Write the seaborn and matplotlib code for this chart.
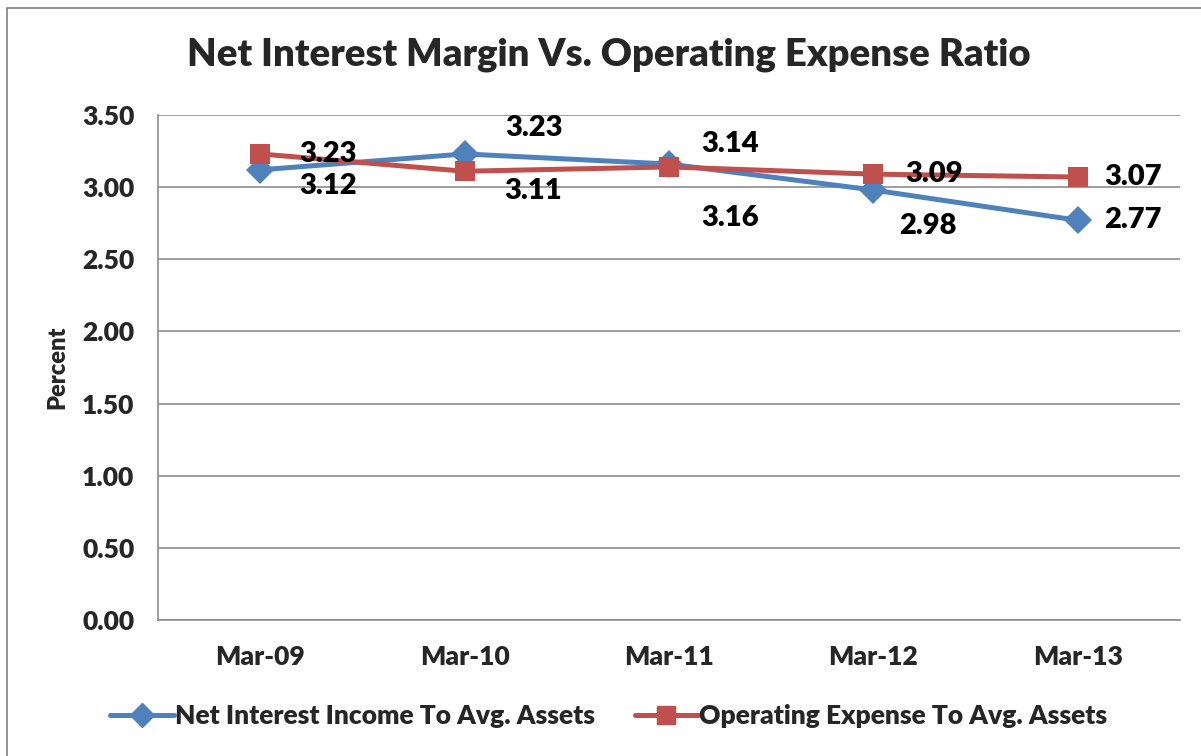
import numpy as np
import pandas as pd
import matplotlib.pyplot as plt
import seaborn as sns
from matplotlib.patches import Rectangle

sns.set_theme(style="white")
plt.rcParams['font.family'] = ['Lato', 'DejaVu Sans']
W = "heavy"

# data
periods = ["Mar-09", "Mar-10", "Mar-11", "Mar-12", "Mar-13"]
net_interest = [3.12, 3.23, 3.16, 2.98, 2.77]
operating_expense = [3.23, 3.11, 3.14, 3.09, 3.07]
ytick_vals = [0.0, 0.5, 1.0, 1.5, 2.0, 2.5, 3.0, 3.5]

# label offsets in pixels (dx, dy), copied from where the labels sit
ni_offsets = [(68, -16), (69, 26), (61, -54), (54, -36), (55, 0)]
oe_offsets = [(68, 0), (69, -20), (61, 23), (61, 0), (55, 0)]

df = pd.DataFrame({
    "period": periods * 2,
    "value": net_interest + operating_expense,
    "series": ["Net Interest Income To Avg. Assets"] * 5 + ["Operating Expense To Avg. Assets"] * 5,
})

blue = "#4F81BD"
red = "#C0504D"
grid_col = "#8C8C8C"

fig = plt.figure(figsize=(12.01, 7.56), dpi=100)
ax = fig.add_axes([0.1316, 0.1799, 0.8509, 0.668])

sns.lineplot(data=df, x="period", y="value", hue="series", style="series",
             markers={"Net Interest Income To Avg. Assets": "D",
                      "Operating Expense To Avg. Assets": "s"},
             dashes=False, palette=[blue, red], linewidth=3.6,
             markersize=14, markeredgewidth=0, ax=ax, legend=False)

ax.set_xlim(-0.5, 4.5)
ax.set_ylim(0, 3.5)
ax.set_yticks(ytick_vals)
ax.set_yticklabels([f"{v:.2f}" for v in ytick_vals], fontsize=19, fontweight=W)
ax.set_xticks(range(len(periods)))
ax.set_xticklabels(periods, fontsize=19, fontweight=W)
ax.set_xticks(np.arange(-0.5, 5, 1), minor=True)
ax.tick_params(axis="x", which="major", length=0, pad=18)
ax.tick_params(axis="x", which="minor", length=8, width=1.2, color=grid_col, direction="out")
ax.tick_params(axis="y", length=9, width=1.2, color=grid_col, direction="out", pad=8)
ax.yaxis.grid(True, color=grid_col, linewidth=1.2)
ax.set_axisbelow(True)
for s in ["top", "right"]:
    ax.spines[s].set_visible(False)
for s in ["left", "bottom"]:
    ax.spines[s].set_color(grid_col)
    ax.spines[s].set_linewidth(1.2)

ax.set_xlabel("")
ax.set_ylabel("Percent", fontsize=17, fontweight=W, labelpad=10)

for i, (a, b) in enumerate(zip(net_interest, operating_expense)):
    ax.annotate(f"{a:.2f}", (i, a), xytext=ni_offsets[i], textcoords="offset pixels",
                ha="center", va="center", fontsize=21, fontweight=W, color="black")
    ax.annotate(f"{b:.2f}", (i, b), xytext=oe_offsets[i], textcoords="offset pixels",
                ha="center", va="center", fontsize=21, fontweight=W, color="black")

fig.text(0.507, 0.928, "Net Interest Margin Vs. Operating Expense Ratio",
         ha="center", va="center", fontsize=27.5, fontweight=W)

handles = [plt.Line2D([], [], color=blue, marker="D", markersize=12, linewidth=3.6),
           plt.Line2D([], [], color=red, marker="s", markersize=13, linewidth=3.6)]
fig.legend(handles, ["Net Interest Income To Avg. Assets", "Operating Expense To Avg. Assets"],
           loc="center", bbox_to_anchor=(0.507, 0.053), ncol=2, frameon=False,
           prop={"size": 19, "weight": W}, handlelength=2.4, handletextpad=0.05,
           columnspacing=1.5)

fig.patches.append(Rectangle((0.006, -0.05), 1.2, 1.04, transform=fig.transFigure,
                             fill=False, edgecolor="#7F7F7F", linewidth=1.2))

fig.savefig("out.png", dpi=100)
